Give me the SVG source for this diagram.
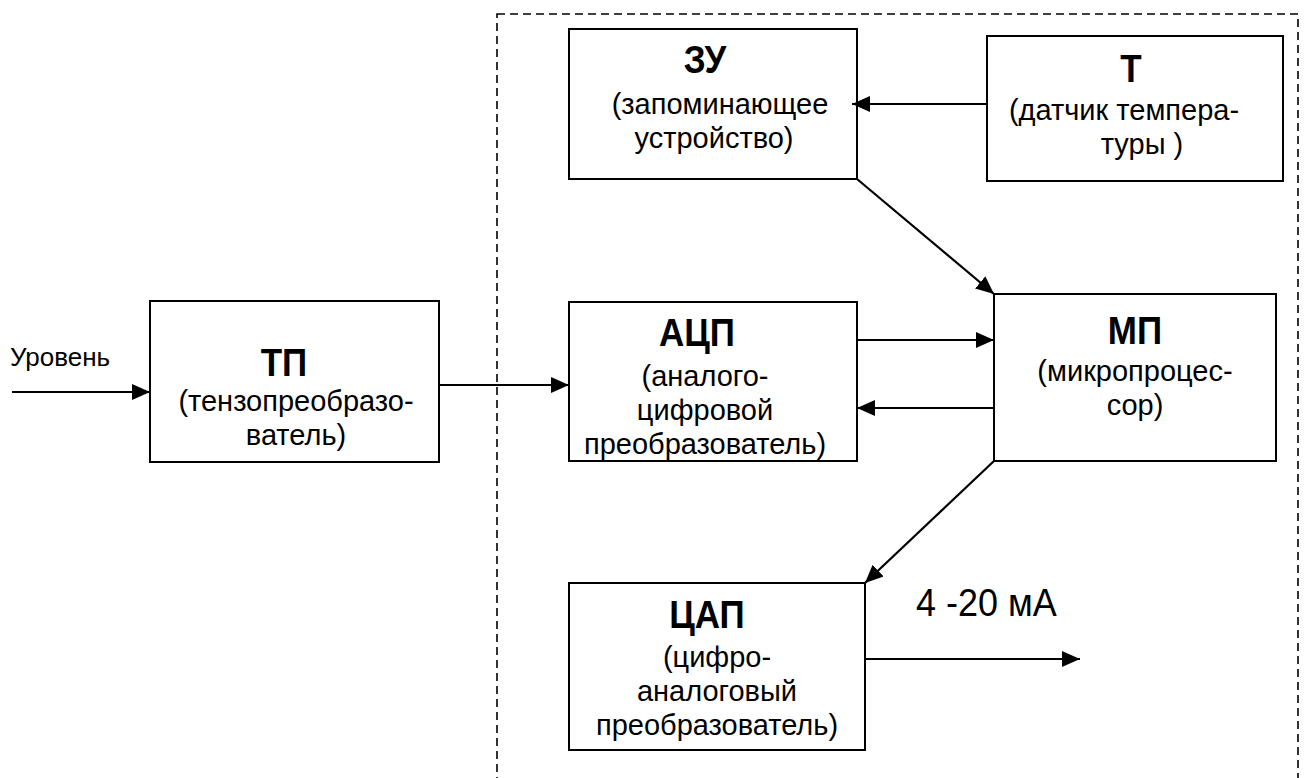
<svg xmlns="http://www.w3.org/2000/svg" width="1307" height="778" viewBox="0 0 1307 778">
<defs>
<style>
.box{fill:#fff;stroke:#000;stroke-width:2}
.dash{fill:none;stroke:#000;stroke-width:1.6;stroke-dasharray:8 5}
.t{font-family:"Liberation Sans",Arial,sans-serif;font-size:29px;text-anchor:middle;fill:#000}
.h{font-family:"Liberation Sans",Arial,sans-serif;font-size:35px;font-weight:bold;text-anchor:middle;fill:#000}
.c{fill:none;stroke:#000;stroke-width:2.2}
</style>
<marker id="ar" markerUnits="userSpaceOnUse" markerWidth="20" markerHeight="16" refX="18" refY="8" orient="auto">
<path d="M0,0 L18,8 L0,16 Z" fill="#000"/>
</marker>
</defs>
<rect class="dash" x="497" y="14" width="801" height="800"/>
<g id="zu">
<rect class="box" x="569" y="29" width="288" height="150"/>
<text class="h" transform="translate(705,73) scale(1,1.12)">ЗУ</text>
<text class="t" x="720" y="114">(запоминающее</text>
<text class="t" x="714" y="148">устройство)</text>
</g>
<g id="t">
<rect class="box" x="987" y="36" width="296" height="145"/>
<text class="h" transform="translate(1131,82) scale(1,1.12)">Т</text>
<text class="t" x="1124" y="120">(датчик темпера-</text>
<text class="t" x="1142" y="154">туры )</text>
</g>
<g id="tp">
<rect class="box" x="150" y="301" width="289" height="161"/>
<text class="h" transform="translate(284,376) scale(1,1.12)">ТП</text>
<text class="t" x="296" y="411">(тензопреобразо-</text>
<text class="t" x="296" y="445">ватель)</text>
</g>
<g id="acp">
<rect class="box" x="569" y="302" width="288" height="159"/>
<text class="h" transform="translate(697,346) scale(1,1.12)">АЦП</text>
<text class="t" x="705" y="386">(аналого-</text>
<text class="t" x="705" y="420">цифровой</text>
<text class="t" x="705" y="454">преобразователь)</text>
</g>
<g id="mp">
<rect class="box" x="994" y="294" width="282" height="167"/>
<text class="h" transform="translate(1135,344) scale(1,1.12)">МП</text>
<text class="t" x="1135" y="381">(микропроцес-</text>
<text class="t" x="1135" y="415">сор)</text>
</g>
<g id="cap">
<rect class="box" x="569" y="583" width="296" height="167"/>
<text class="h" transform="translate(707,628) scale(1,1.12)">ЦАП</text>
<text class="t" x="717" y="667">(цифро-</text>
<text class="t" x="717" y="701">аналоговый</text>
<text class="t" x="717" y="735">преобразователь)</text>
</g>
<g id="labels">
<text class="t" x="10" y="366" style="text-anchor:start;font-size:26px">Уровень</text>
<text class="t" transform="translate(916,616) scale(1,1.1)" style="text-anchor:start;font-size:36px">4 -20 мА</text>
</g>
<g id="connectors">
<line class="c" x1="12" y1="392" x2="150" y2="392" marker-end="url(#ar)"/>
<line class="c" x1="439" y1="385" x2="569" y2="385" marker-end="url(#ar)"/>
<line class="c" x1="987" y1="104" x2="852" y2="104" marker-end="url(#ar)"/>
<line class="c" x1="857" y1="179" x2="994" y2="294" marker-end="url(#ar)"/>
<line class="c" x1="857" y1="340" x2="994" y2="340" marker-end="url(#ar)"/>
<line class="c" x1="994" y1="408" x2="857" y2="408" marker-end="url(#ar)"/>
<line class="c" x1="994" y1="461" x2="865" y2="583" marker-end="url(#ar)"/>
<line class="c" x1="865" y1="659" x2="1080" y2="659" marker-end="url(#ar)"/>
</g>
</svg>
